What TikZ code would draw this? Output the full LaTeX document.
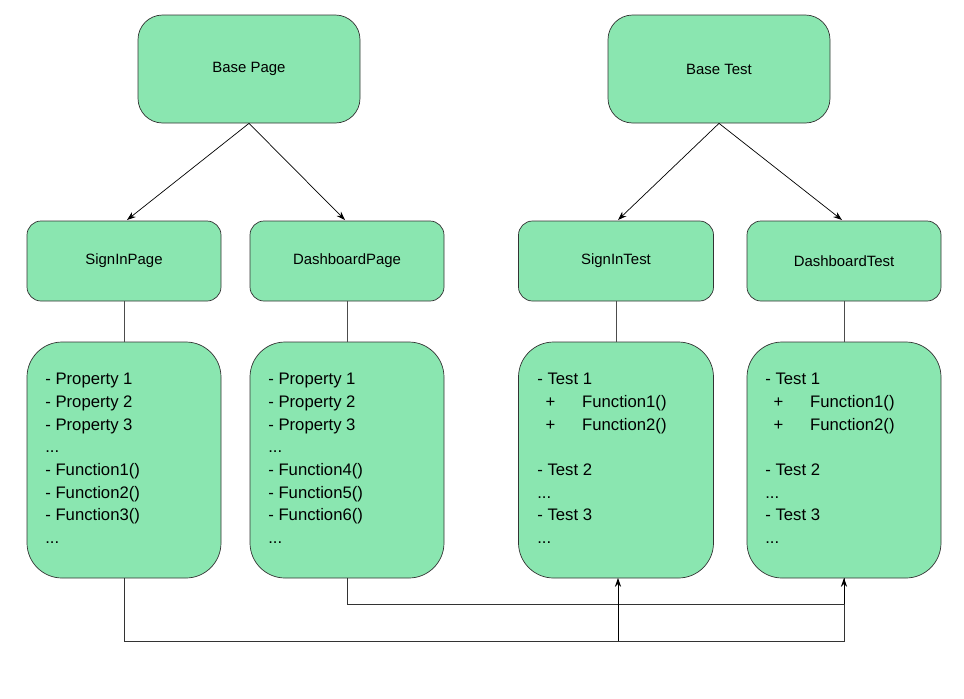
\documentclass[tikz,border=0pt]{standalone}
\usepackage{fontspec}
\setmainfont{Liberation Sans}
\usetikzlibrary{arrows.meta}
\definecolor{boxg}{HTML}{8AE6B0}
\begin{document}
\begin{tikzpicture}[x=0.02cm,y=-0.02cm,
  box/.style={draw=black!80,fill=boxg,rounded corners=14pt,inner sep=0pt},
  big/.style={draw=black!80,fill=boxg,rounded corners=20pt,inner sep=0pt},
  ttl/.style={font=\fontsize{8.5}{10}\selectfont},
  body/.style={font=\fontsize{9.5}{12.9}\selectfont,align=left,anchor=north west,inner sep=0pt},
  arr/.style={-{Stealth[length=5pt,width=3.5pt]},black}]
\useasboundingbox (0,0) rectangle (964,698);
% top boxes
\node[box,minimum width=222*0.02cm,minimum height=108*0.02cm,ttl] (bp) at (249,69) {Base Page};
\node[box,minimum width=222*0.02cm,minimum height=108*0.02cm,ttl] (bt) at (719,69) {Base Test};
% row 2
\node[box,rounded corners=8pt,minimum width=194*0.02cm,minimum height=80*0.02cm,ttl] (sp) at (124,261) {SignInPage};
\node[box,rounded corners=8pt,minimum width=194*0.02cm,minimum height=80*0.02cm,ttl] (dp) at (347,261) {DashboardPage};
\node[box,rounded corners=8pt,minimum width=195*0.02cm,minimum height=80*0.02cm,ttl] (st) at (616,261) {SignInTest};
\node[box,rounded corners=8pt,minimum width=194*0.02cm,minimum height=80*0.02cm,ttl] (dt) at (844,261) {DashboardTest};
% row 3
\node[big,minimum width=194*0.02cm,minimum height=236*0.02cm] (spb) at (124,460) {};
\node[big,minimum width=194*0.02cm,minimum height=236*0.02cm] (dpb) at (347,460) {};
\node[big,minimum width=195*0.02cm,minimum height=236*0.02cm] (stb) at (616,460) {};
\node[big,minimum width=194*0.02cm,minimum height=236*0.02cm] (dtb) at (844,460) {};
\node[body] (spt) at (45,373) {- Property 1\\- Property 2\\- Property 3\\...\\- Function1()\\- Function2()\\- Function3()\\...};
\node[body] (dpt) at (268,373) {- Property 1\\- Property 2\\- Property 3\\...\\- Function4()\\- Function5()\\- Function6()\\...};
\node[body] (stt) at (537,373) {- Test 1\\\hspace{0.5em}+\hspace{1.6em}Function1()\\\hspace{0.5em}+\hspace{1.6em}Function2()\\\mbox{}\\- Test 2\\...\\- Test 3\\...};
\node[body] (dtt) at (765,373) {- Test 1\\\hspace{0.5em}+\hspace{1.6em}Function1()\\\hspace{0.5em}+\hspace{1.6em}Function2()\\\mbox{}\\- Test 2\\...\\- Test 3\\...};
% arrows
\draw[arr] (bp.south) -- (127,220);
\draw[arr] (bp.south) -- (345,220);
\draw[arr] (bt.south) -- (618,220);
\draw[arr] (bt.south) -- (842,220);
% links
\foreach \a/\b in {sp/spb,dp/dpb,st/stb,dt/dtb} \draw[black!70] (\a.south) -- (\b.north);
% bottom connectors
\coordinate (j1) at (618,641);
\coordinate (j2) at (618,604);
\draw[black!80] (spb.south) |- (j1) -| (844,578);
\draw[black!80] (dpb.south) |- (j2) -- (844,604);
\draw[arr] (j1) -- (618,578);
\draw[arr] (844,604) -- (844,578);
\end{tikzpicture}
\end{document}
